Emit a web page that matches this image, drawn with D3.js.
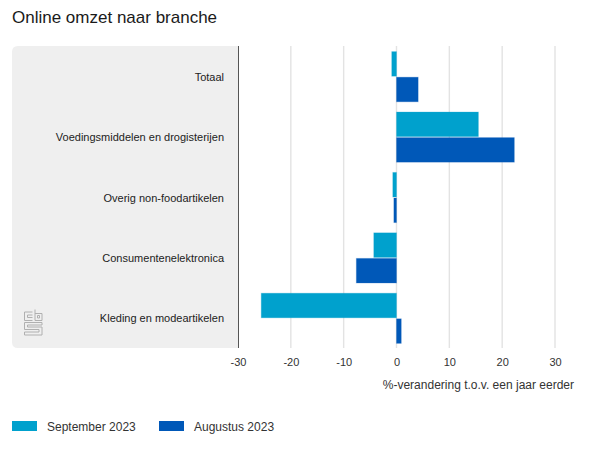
<!DOCTYPE html>
<html>
<head>
<meta charset="utf-8">
<script src="https://cdn.jsdelivr.net/npm/d3@7"></script>
<style>
  body { margin: 0; background: #fff; }
  text { font-family: "Liberation Sans", Arial, sans-serif; }
</style>
</head>
<body>
<script>
// Data
var categories = ["Totaal", "Voedingsmiddelen en drogisterijen", "Overig non-foodartikelen", "Consumentenelektronica", "Kleding en modeartikelen"];
var septValues = [-0.9, 15.5, -0.7, -4.3, -25.6];
var augValues = [4.1, 22.3, -0.5, -7.6, 0.9];
var tickValues = [-30, -20, -10, 0, 10, 20, 30];
var seriesNames = ["September 2023", "Augustus 2023"];
var seriesColors = ["#00a1cd", "#0058b8"];

var svg = d3.select("body").append("svg")
  .attr("width", 600)
  .attr("height", 450)
  .style("display", "block");

var x = d3.scaleLinear().domain([-30, 30]).range([238, 555]);
var y0 = d3.scaleBand().domain(categories).range([46.5, 348.5]).paddingInner(0.17).paddingOuter(0.085);
var y1 = d3.scaleBand().domain(seriesNames).range([0, y0.bandwidth()]).paddingInner(0.04);

svg.append("text")
  .attr("x", 12).attr("y", 23)
  .attr("font-size", 17).attr("fill", "#1a1a1a")
  .text("Online omzet naar branche");

// grey label panel with rounded left corners
var px = 12, py = 46, pw = 226.5, ph = 302, r = 6;
svg.append("path")
  .attr("d", "M" + (px + pw) + "," + py + "H" + (px + r) + "Q" + px + "," + py + " " + px + "," + (py + r) +
    "V" + (py + ph - r) + "Q" + px + "," + (py + ph) + " " + (px + r) + "," + (py + ph) + "H" + (px + pw) + "Z")
  .attr("fill", "#efefef");

// grid lines
svg.append("g").selectAll("line")
  .data(tickValues.filter(function (d) { return d !== -30; }))
  .enter().append("line")
  .attr("x1", function (d) { return x(d); })
  .attr("x2", function (d) { return x(d); })
  .attr("y1", 46).attr("y2", 348)
  .attr("stroke", "#e3e3e3").attr("stroke-width", 1.4);

// axis line between panel and plot
svg.append("line")
  .attr("x1", x(-30) + 0.5).attr("x2", x(-30) + 0.5)
  .attr("y1", 46).attr("y2", 348)
  .attr("stroke", "#555").attr("stroke-width", 1);

// tick labels, plain hyphen for the minus sign
var axis = d3.axisBottom(x).tickValues(tickValues).tickSize(0).tickPadding(0)
  .tickFormat(function (d) { return String(d); });
var axisG = svg.append("g").attr("transform", "translate(0,358)").call(axis);
axisG.select(".domain").remove();
axisG.selectAll("text")
  .style("font-family", '"Liberation Sans", Arial, sans-serif')
  .style("font-size", "11px").attr("fill", "#333");

svg.append("text")
  .attr("x", 574).attr("y", 389)
  .attr("text-anchor", "end")
  .attr("font-size", 12).attr("fill", "#333")
  .text("%-verandering t.o.v. een jaar eerder");

// category labels
svg.append("g").selectAll("text")
  .data(categories)
  .enter().append("text")
  .attr("x", 224)
  .attr("y", function (d) { return y0(d) + y0.bandwidth() / 2 + 4; })
  .attr("text-anchor", "end")
  .attr("font-size", 11).attr("fill", "#222")
  .text(function (d) { return d; });

// bars
function drawBars(values, name, color) {
  svg.append("g").selectAll("rect")
    .data(values)
    .enter().append("rect")
    .attr("x", function (d) { return Math.min(x(0), x(d)); })
    .attr("y", function (d, i) { return y0(categories[i]) + y1(name); })
    .attr("width", function (d) { return Math.abs(x(d) - x(0)); })
    .attr("height", y1.bandwidth())
    .attr("fill", color)
    .attr("stroke", color).attr("stroke-opacity", 0.25).attr("stroke-width", 1);
}
drawBars(septValues, seriesNames[0], seriesColors[0]);
drawBars(augValues, seriesNames[1], seriesColors[1]);

// legend
var legendX = [12, 159];
var legend = svg.append("g").selectAll("g")
  .data(seriesNames)
  .enter().append("g")
  .attr("transform", function (d, i) { return "translate(" + legendX[i] + ",421)"; });
legend.append("rect")
  .attr("width", 25).attr("height", 10)
  .attr("fill", function (d, i) { return seriesColors[i]; });
legend.append("text")
  .attr("x", 35).attr("y", 9.5)
  .attr("font-size", 12).attr("fill", "#333")
  .text(function (d) { return d; });

// cbs logo
svg.append("path")
  .attr("d", "M32.5,312H24.5V320.5H32.5M32.5,315H27.5V317.5H32.5" +
    "M35,309.5V320.5H42V313.5H35M37.5,315.5h2v2.5h-2Z" +
    "M42,322.5H24.5V329.5H39V332H24.5V335H42V327H27.5V325H42Z")
  .attr("fill", "none")
  .attr("stroke", "#b0b0b0")
  .attr("stroke-width", 1);
</script>
</body>
</html>
